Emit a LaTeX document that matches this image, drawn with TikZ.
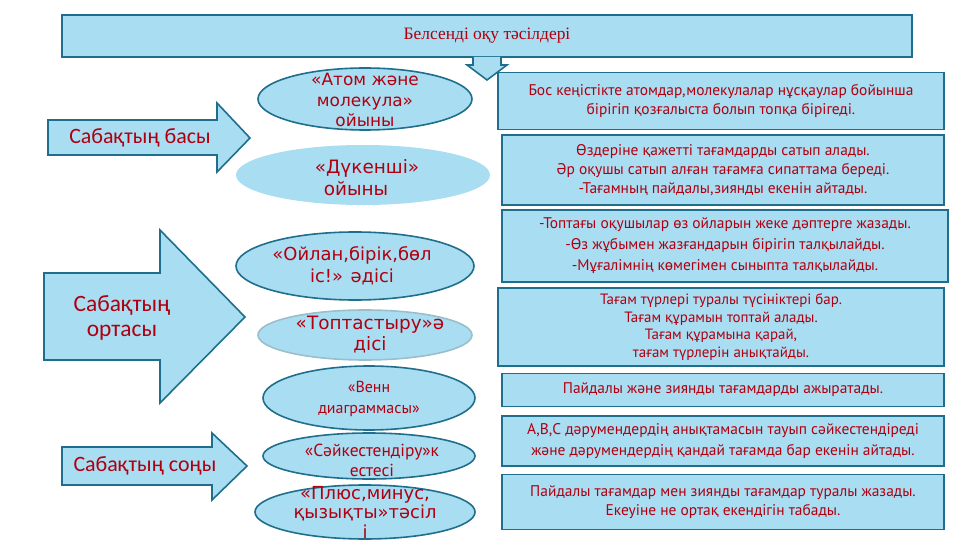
\documentclass[tikz,border=0pt]{standalone}
\usepackage{fontspec}
\setmainfont{Liberation Serif}
\newfontfamily\ovalfont{DejaVu Sans}
\newfontfamily\boxfont{PT Sans}
\newfontfamily\arrowfont{Carlito}
\usetikzlibrary{shapes.geometric}

\definecolor{skyfill}{HTML}{A8DDF2}
\definecolor{skyedge}{HTML}{1F6E8C}
\definecolor{redtext}{HTML}{B00010}

\tikzset{
  skyshape/.style={fill=skyfill,draw=skyedge,line width=1.6pt,line join=miter},
  skyplain/.style={fill=skyfill,draw=none},
  skybox/.style={skyshape,text=redtext,font=\boxfont\fontsize{15.5}{19}\selectfont,align=center,inner sep=0pt},
  ovaltext/.style={text=redtext,font=\ovalfont\fontsize{17}{21}\selectfont,align=center,inner sep=0pt},
  arrowtext/.style={text=redtext,font=\arrowfont\fontsize{22}{25}\selectfont,align=center},
}

\begin{document}
\begin{tikzpicture}[x=1bp,y=-1bp]
\useasboundingbox (0,0) rectangle (960,540);
% title and down arrow
\node[skybox,font=\fontsize{17.5}{20}\selectfont,minimum width=850bp,minimum height=42bp] (title) at (487,36) {Белсенді оқу тәсілдері};
\draw[skyshape] (473,57) -- (473,65) -- (467,65) -- (487,80) -- (507,65) -- (501,65) -- (501,57);
% left arrows
\draw[skyshape] (48,120) -- (217,120) -- (217,103) -- (250,138) -- (217,172) -- (217,155) -- (48,155) -- cycle;
\draw[skyshape] (44,273) -- (160,273) -- (160,230) -- (245,317) -- (160,403) -- (160,360) -- (44,360) -- cycle;
\draw[skyshape] (62,447) -- (212,447) -- (212,433) -- (247,466) -- (212,500) -- (212,485) -- (62,485) -- cycle;
\node[arrowtext] (start) at (140,138) {Сабақтың басы};
\node[arrowtext,font=\arrowfont\fontsize{23.5}{25}\selectfont] (middle) at (122,318) {Сабақтың\\ортасы};
\node[arrowtext] (finish) at (145,466) {Сабақтың соңы};
% ovals
\draw[skyshape] (365,99) ellipse [x radius=107, y radius=31];
\fill[skyplain] (363,175) ellipse [x radius=127, y radius=30];
\draw[skyshape] (355,266) ellipse [x radius=119, y radius=34];
\draw[skyshape,draw=skyedge!45] (365,335) ellipse [x radius=107, y radius=25];
\draw[skyshape] (369,398) ellipse [x radius=106, y radius=32];
\draw[skyshape] (369,456) ellipse [x radius=106, y radius=23];
\draw[skyshape] (365,512) ellipse [x radius=110, y radius=27];
\node[ovaltext] (atom) at (365,100) {«Атом және\\молекула»\\ойыны};
\node[ovaltext,font=\ovalfont\fontsize{18.5}{22}\selectfont] (shop) at (356,178) {\hspace*{22bp}«Дүкенші»\\ойыны};
\node[ovaltext,font=\ovalfont\fontsize{18}{22}\selectfont] (think) at (352,266) {«Ойлан,бірік,бөл\\іс!» әдісі};
\node[ovaltext,font=\ovalfont\fontsize{18.5}{21}\selectfont] (group) at (370,335) {«Топтастыру»ә\\дісі};
\node[ovaltext,font=\boxfont\fontsize{16}{21}\selectfont] (venn) at (369,399) {«Венн\\диаграммасы»};
\node[ovaltext,font=\boxfont\fontsize{17.5}{20}\selectfont] (match) at (372,460) {«Сәйкестендіру»к\\естесі};
\node[ovaltext,font=\ovalfont\fontsize{18}{19.5}\selectfont,anchor=north] (plus) at (365,486) {«Плюс,минус,\\қызықты»тәсіл\\і};
% right boxes
\node[skybox,minimum width=446bp,minimum height=57bp] (desc1) at (721,101) {Бос кеңістікте атомдар,молекулалар нұсқаулар бойынша\\бірігіп қозғалыста болып топқа бірігеді.};
\node[skybox,minimum width=442bp,minimum height=70bp] (desc2) at (723,170) {Өздеріне қажетті тағамдарды сатып алады.\\Әр оқушы сатып алған тағамға сипаттама  береді.\\-Тағамның пайдалы,зиянды екенін айтады.};
\node[skybox,minimum width=446bp,minimum height=72bp,font=\boxfont\fontsize{15.5}{21}\selectfont] (desc3) at (725,246) {-Топтағы оқушылар өз ойларын жеке дәптерге жазады.\\-Өз жұбымен жазғандарын бірігіп талқылайды.\\-Мұғалімнің көмегімен сыныпта талқылайды.};
\node[skybox,minimum width=446bp,minimum height=78bp,font=\boxfont\fontsize{15}{17.5}\selectfont] (desc4) at (721,327) {Тағам түрлері туралы түсініктері бар.\\Тағам құрамын топтай алады.\\Тағам құрамына қарай,\\тағам түрлерін анықтайды.};
\node[skybox,minimum width=442bp,minimum height=33bp] (desc5) at (723,390) {Пайдалы және зиянды тағамдарды  ажыратады.};
\node[skybox,minimum width=442bp,minimum height=50bp,font=\boxfont\fontsize{15.5}{21}\selectfont] (desc6) at (723,441) {А,В,С дәрумендердің анықтамасын тауып сәйкестендіреді\\және дәрумендердің қандай тағамда бар екенін айтады.};
\node[skybox,minimum width=442bp,minimum height=55bp] (desc7) at (723,502) {Пайдалы тағамдар мен зиянды тағамдар туралы жазады.\\Екеуіне не ортақ екендігін табады.};
\end{tikzpicture}
\end{document}
